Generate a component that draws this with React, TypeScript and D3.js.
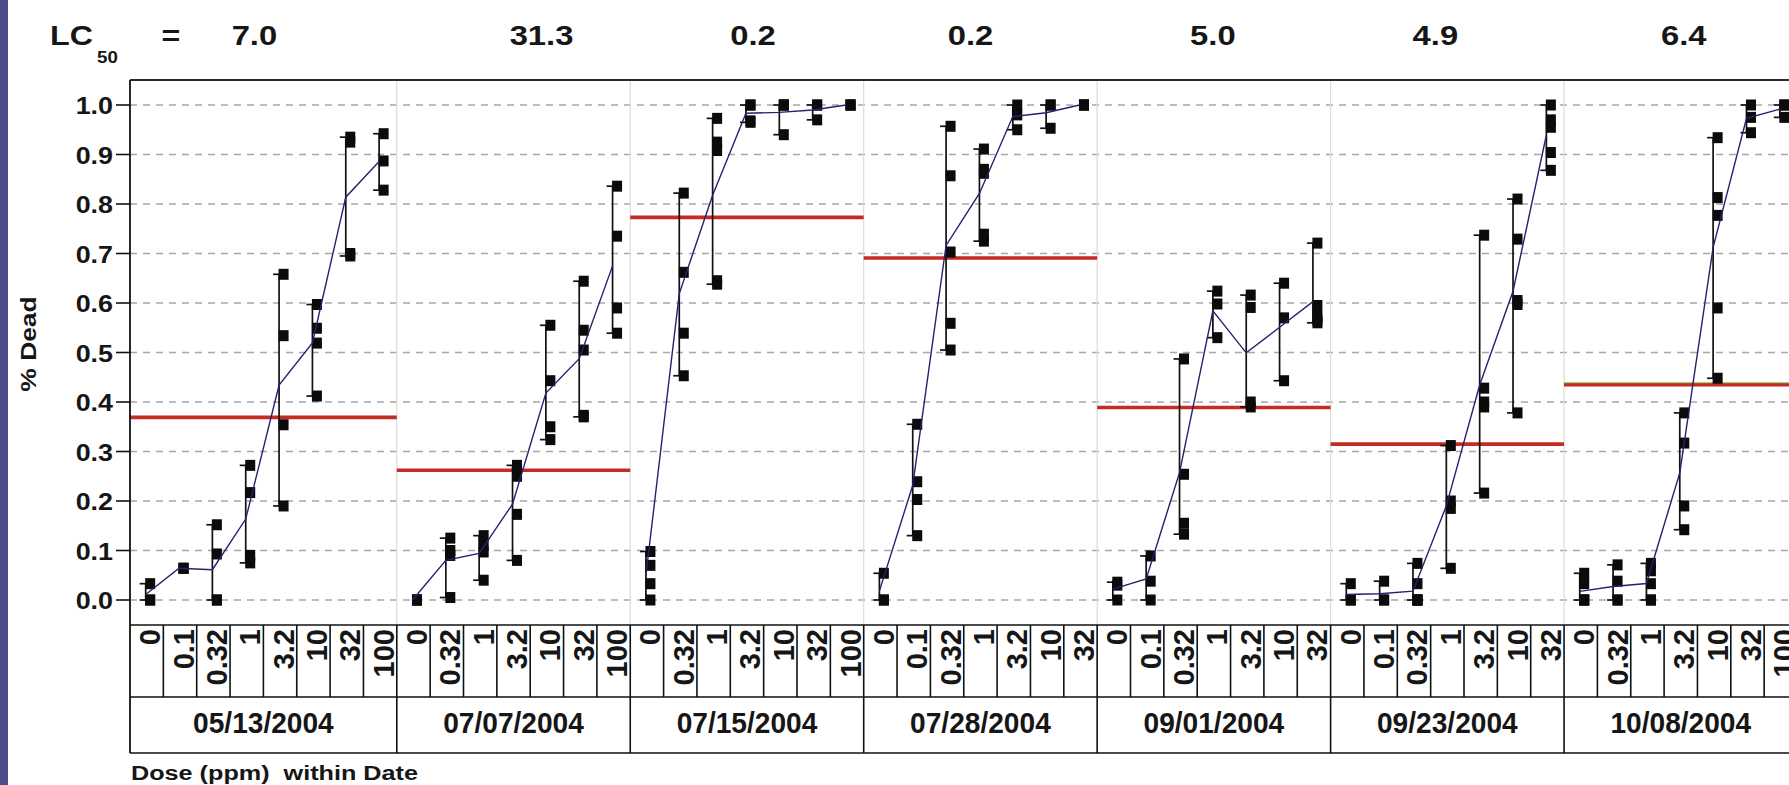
import React from 'react';
import * as d3 from 'd3';

// ---- data -------------------------------------------------------------
const dates = ['05/13/2004', '07/07/2004', '07/15/2004', '07/28/2004', '09/01/2004', '09/23/2004', '10/08/2004'];
const lc50Values = ['7.0', '31.3', '0.2', '0.2', '5.0', '4.9', '6.4'];

const doses0513 = ['0', '0.1', '0.32', '1', '3.2', '10', '32', '100'];
const doses0707 = ['0', '0.32', '1', '3.2', '10', '32', '100'];
const doses0715 = ['0', '0.32', '1', '3.2', '10', '32', '100'];
const doses0728 = ['0', '0.1', '0.32', '1', '3.2', '10', '32'];
const doses0901 = ['0', '0.1', '0.32', '1', '3.2', '10', '32'];
const doses0923 = ['0', '0.1', '0.32', '1', '3.2', '10', '32'];
const doses1008 = ['0', '0.32', '1', '3.2', '10', '32', '100'];

// replicate proportions dead, one list per dose
const dead0513 = [
  [0.033, 0.0, 0.0],
  [0.064, 0.064, 0.064],
  [0.152, 0.093, 0.0, 0.0],
  [0.272, 0.217, 0.09, 0.075],
  [0.658, 0.534, 0.354, 0.19],
  [0.597, 0.549, 0.519, 0.412],
  [0.935, 0.925, 0.7, 0.695],
  [0.942, 0.887, 0.828],
];
const dead0707 = [
  [0.0, 0.0, 0.0],
  [0.125, 0.1, 0.09, 0.005],
  [0.13, 0.11, 0.097, 0.04],
  [0.272, 0.25, 0.173, 0.08],
  [0.555, 0.443, 0.35, 0.324],
  [0.644, 0.545, 0.505, 0.373, 0.37],
  [0.836, 0.735, 0.59, 0.539],
];
const dead0715 = [
  [0.098, 0.07, 0.033, 0.0],
  [0.822, 0.662, 0.539, 0.453],
  [0.973, 0.925, 0.908, 0.645, 0.638],
  [1.0, 1.0, 0.968, 0.965],
  [1.0, 1.0, 1.0, 0.94],
  [1.0, 1.0, 0.97],
  [1.0, 1.0, 1.0],
];
const dead0728 = [
  [0.054, 0.0, 0.0],
  [0.355, 0.239, 0.203, 0.13],
  [0.957, 0.857, 0.703, 0.559, 0.505],
  [0.911, 0.87, 0.862, 0.739, 0.725],
  [1.0, 0.98, 0.95],
  [1.0, 1.0, 0.953],
  [1.0, 1.0, 1.0],
];
const dead0901 = [
  [0.036, 0.03, 0.0],
  [0.089, 0.038, 0.0],
  [0.487, 0.254, 0.155, 0.133],
  [0.624, 0.598, 0.53],
  [0.616, 0.591, 0.4, 0.39],
  [0.64, 0.57, 0.443],
  [0.721, 0.595, 0.573, 0.565, 0.56],
];
const dead0923 = [
  [0.033, 0.0, 0.0],
  [0.038, 0.0, 0.0],
  [0.074, 0.033, 0.0, 0.0, 0.0, 0.0],
  [0.312, 0.2, 0.185, 0.064],
  [0.737, 0.428, 0.4, 0.39, 0.216],
  [0.81, 0.729, 0.605, 0.597, 0.378],
  [1.0, 0.97, 0.955, 0.904, 0.868],
];
const dead1008 = [
  [0.054, 0.033, 0.0, 0.0, 0.0],
  [0.071, 0.038, 0.0, 0.0],
  [0.074, 0.059, 0.033, 0.0, 0.0],
  [0.378, 0.317, 0.19, 0.142],
  [0.934, 0.813, 0.777, 0.59, 0.448],
  [1.0, 0.975, 0.944],
  [1.0, 1.0, 0.975],
];

// horizontal reference level drawn across each date panel
const refLevels = [0.369, 0.262, 0.773, 0.691, 0.389, 0.315, 0.435];

const yTickValues = [0, 0.1, 0.2, 0.3, 0.4, 0.5, 0.6, 0.7, 0.8, 0.9, 1.0];

const doseLists = [doses0513, doses0707, doses0715, doses0728, doses0901, doses0923, doses1008];
const deadLists = [dead0513, dead0707, dead0715, dead0728, dead0901, dead0923, dead1008];

// ---- layout -----------------------------------------------------------
const W = 1789;
const H = 785;
const LEFT = 130;
const CELL = 33.35;
const PLOT_TOP = 80;
const ROW1 = 625;
const ROW2 = 697;
const ROW3 = 753;
const FONT = "'Liberation Sans', Arial, Helvetica, sans-serif";
const INK = '#161616';
// horizontal nudge of each LC50 value from its panel centre
const titleNudge = [-9, 28, 6, -10, -1, -12, 3];

const cellKeys = doseLists.flatMap((ds, i) => ds.map((d) => `${i}|${d}`));
const x = d3
  .scaleBand<string>()
  .domain(cellKeys)
  .range([LEFT, LEFT + cellKeys.length * CELL])
  .padding(0);
const y = d3.scaleLinear().domain([0, 1]).range([600, 105]);
const fmt = d3.format('.1f');

type TProps = {
  x: number;
  y: number;
  size: number;
  sx?: number;
  anchor?: 'start' | 'middle' | 'end';
  rot?: number;
  children: React.ReactNode;
};
function T({ x: tx, y: ty, size, sx = 1, anchor = 'start', rot = 0, children }: TProps) {
  return (
    <text
      transform={`translate(${tx},${ty}) rotate(${rot}) scale(${sx},1)`}
      fontSize={size}
      fontWeight="bold"
      fontFamily={FONT}
      textAnchor={anchor}
      fill={INK}
      style={{ whiteSpace: 'pre' }}
    >
      {children}
    </text>
  );
}

export default function App() {
  const panels = doseLists.map((ds, i) => {
    const x0 = x(`${i}|${ds[0]}`)!;
    const x1 = x(`${i}|${ds[ds.length - 1]}`)! + x.bandwidth();
    return { x0, x1, cx: (x0 + x1) / 2 };
  });

  const meanLine = d3
    .line<[number, number]>()
    .x((d) => d[0])
    .y((d) => y(d[1]));

  return (
    <svg
      width={W}
      height={H}
      viewBox={`0 0 ${W} ${H}`}
      style={{ position: 'absolute', left: 0, top: 0, background: '#fff' }}
    >
      <rect x={0} y={0} width={W} height={H} fill="#fff" />
      {/* left accent stripe */}
      <rect x={0} y={0} width={8} height={H} fill="#4e4e86" />

      {/* title row */}
      <T x={50} y={45} size={28} sx={1.15}>LC</T>
      <T x={97} y={63} size={17} sx={1.1}>50</T>
      <T x={171} y={45} size={28} sx={1.15} anchor="middle">=</T>
      {lc50Values.map((v, i) => (
        <T key={i} x={panels[i].cx + titleNudge[i]} y={45} size={28} sx={1.17} anchor="middle">
          {v}
        </T>
      ))}

      {/* horizontal grid */}
      {yTickValues.map((v) => (
        <line
          key={v}
          x1={LEFT}
          x2={W}
          y1={y(v)}
          y2={y(v)}
          stroke="#a8a8a8"
          strokeWidth={1.4}
          strokeDasharray="7 6"
        />
      ))}

      {/* panel separators inside the plot */}
      {panels.slice(1).map((p, i) => (
        <line key={i} x1={p.x0} x2={p.x0} y1={PLOT_TOP} y2={ROW1} stroke="#dcdcd4" strokeWidth={1.2} />
      ))}

      {/* reference levels */}
      {panels.map((p, i) => (
        <g key={i}>
          <line x1={p.x0} x2={p.x1} y1={y(refLevels[i])} y2={y(refLevels[i])} stroke="#c62a22" strokeWidth={3.6} />
          {i === panels.length - 1 && (
            <line x1={p.x0} x2={p.x1} y1={y(refLevels[i]) - 1.5} y2={y(refLevels[i]) - 1.5} stroke="#8c7420" strokeWidth={1.2} />
          )}
        </g>
      ))}

      {/* replicate ranges, points and cell means */}
      {doseLists.map((ds, i) => {
        const pts: [number, number][] = ds.map((d, j) => [
          x(`${i}|${d}`)! + x.bandwidth() / 2 - 1,
          d3.mean(deadLists[i][j])!,
        ]);
        return (
          <g key={i}>
            {ds.map((d, j) => {
              const vals = deadLists[i][j];
              const [lo, hi] = d3.extent(vals) as [number, number];
              const bx = x(`${i}|${d}`)! + x.bandwidth() / 2 - 1;
              return (
                <g key={d}>
                  {hi > lo && (
                    <g stroke="#111" strokeWidth={1.7}>
                      <line x1={bx} x2={bx} y1={y(lo)} y2={y(hi)} />
                      <line x1={bx - 6} x2={bx + 6} y1={y(lo)} y2={y(lo)} />
                      <line x1={bx - 6} x2={bx + 6} y1={y(hi)} y2={y(hi)} />
                    </g>
                  )}
                  {vals.map((v, k) => (
                    <rect key={k} x={bx + 4.5 - 5} y={y(v) - 5.5} width={10} height={11} fill="#0b0b0b" />
                  ))}
                </g>
              );
            })}
            <path d={meanLine(pts)!} fill="none" stroke="#23236e" strokeWidth={1.4} />
          </g>
        );
      })}

      {/* frame */}
      <line x1={LEFT} x2={W} y1={PLOT_TOP} y2={PLOT_TOP} stroke="#2a2a2a" strokeWidth={2.2} />
      <line x1={LEFT} x2={LEFT} y1={PLOT_TOP} y2={ROW3} stroke="#111" strokeWidth={1.8} />

      {/* y axis */}
      {yTickValues.map((v) => (
        <g key={v}>
          <line x1={116} x2={LEFT} y1={y(v)} y2={y(v)} stroke="#111" strokeWidth={1.6} />
          <T x={113} y={y(v) + 9} size={24} sx={1.12} anchor="end">
            {fmt(v)}
          </T>
        </g>
      ))}
      <T x={36} y={344} size={22} sx={1.2} rot={-90} anchor="middle">
        % Dead
      </T>

      {/* dose / date table */}
      <g stroke="#111" strokeWidth={1.6}>
        <line x1={LEFT} x2={W} y1={ROW1} y2={ROW1} />
        <line x1={LEFT} x2={W} y1={ROW2} y2={ROW2} />
        <line x1={LEFT} x2={W} y1={ROW3} y2={ROW3} />
        {cellKeys.map((k) => (
          <line key={k} x1={x(k)! + x.bandwidth()} x2={x(k)! + x.bandwidth()} y1={ROW1} y2={ROW2} />
        ))}
        {panels.map((p, i) => (
          <line key={i} x1={p.x1} x2={p.x1} y1={ROW2} y2={ROW3} />
        ))}
      </g>
      {cellKeys.map((k) => (
        <T key={k} x={x(k)! + x.bandwidth() / 2 + 13.5} y={629} size={29} rot={-90} anchor="end">
          {k.split('|')[1]}
        </T>
      ))}
      {dates.map((d, i) => (
        <T key={d} x={panels[i].cx} y={733} size={29} sx={0.97} anchor="middle">
          {d}
        </T>
      ))}

      <T x={131} y={780} size={21} sx={1.2}>
        {'Dose (ppm)  within Date'}
      </T>
    </svg>
  );
}
